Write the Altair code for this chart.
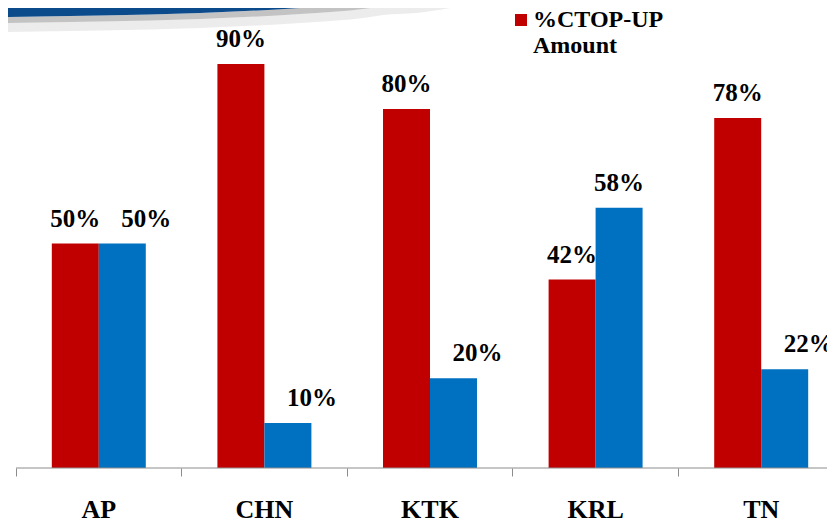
import altair as alt
import pandas as pd

# ---- chart data ----
regions = ["AP", "CHN", "KTK", "KRL", "TN"]
ctopup_pct = [50, 90, 80, 42, 78]
other_pct = [50, 10, 20, 58, 22]
series_names = ["%CTOP-UP Amount", "%ETOP-UP Amount"]
series_colors = ["#C00000", "#0070C0"]

# ---- decorative header swoosh of the slide template ----
swoosh_x = [-8, 84, 184, 284, 351, 367, 400, 440]
swoosh_edge = [9, 7.5, 5, 0, -5.5, -8, -10, -16]

FONT = "Liberation Serif"
W = 811      # visible plot width (page is cropped on the right)
RANGE = 828  # full band range of the five categories

rows = []
for r, a, b in zip(regions, ctopup_pct, other_pct):
    rows.append({"region": r, "series": series_names[0], "order": 0, "value": a})
    rows.append({"region": r, "series": series_names[1], "order": 1, "value": b})
df = pd.DataFrame(rows)
df["label"] = df["value"].astype(str) + "%"

deco = pd.DataFrame({"px": swoosh_x, "edge": swoosh_edge})
deco["top"] = -20
deco["sh1"] = deco["edge"] + 6
deco["sh2"] = deco["edge"] + 15

dx_scale = alt.Scale(domain=[0, W], nice=False, zero=False)
dy_scale = alt.Scale(domain=[0, 460], nice=False, zero=False, reverse=True)

dbase = alt.Chart(deco)
blue = dbase.mark_area(color="#0B4A8B", interpolate="monotone").encode(
    x=alt.X("px:Q", scale=dx_scale, axis=None),
    y=alt.Y("top:Q", scale=dy_scale, axis=None),
    y2="edge:Q",
)
shadow1 = dbase.mark_area(color="#7a7a7a", opacity=0.45, interpolate="monotone").encode(
    x=alt.X("px:Q", scale=dx_scale, axis=None),
    y=alt.Y("edge:Q", scale=dy_scale, axis=None),
    y2="sh1:Q",
)
shadow2 = dbase.mark_area(color="#a0a0a0", opacity=0.2, interpolate="monotone").encode(
    x=alt.X("px:Q", scale=dx_scale, axis=None),
    y=alt.Y("sh1:Q", scale=dy_scale, axis=None),
    y2="sh2:Q",
)
decor = alt.layer(shadow2, shadow1, blue)

x_scale = alt.Scale(range=[0, RANGE], paddingInner=0, paddingOuter=0)
xo_scale = alt.Scale(paddingInner=0, paddingOuter=0.762)
y_scale = alt.Scale(domain=[0, 102.5], nice=False)
x_axis = alt.Axis(title=None, labelAngle=0, labelFont=FONT, labelFontSize=26,
                  labelFontWeight="bold", labelColor="black", labelBaseline="alphabetic",
                  domain=False, tickColor="#8c8c8c", tickSize=8,
                  bandPosition=0, labelPadding=41, grid=False)

base = alt.Chart(df)
bars = base.mark_bar(clip=True).encode(
    x=alt.X("region:N", sort=regions, scale=x_scale, axis=x_axis),
    xOffset=alt.XOffset("series:N", sort=series_names, scale=xo_scale),
    y=alt.Y("value:Q", scale=y_scale, axis=None),
    color=alt.Color("series:N", scale=alt.Scale(domain=series_names, range=series_colors),
                    legend=alt.Legend(title=None, orient="none", legendX=493, legendY=0,
                                      values=[series_names[0]], symbolType="square",
                                      symbolSize=144, symbolStrokeWidth=0,
                                      labelFont=FONT, labelFontSize=24, labelFontWeight="bold",
                                      labelColor="black", labelLimit=400, labelOffset=0,
                                      labelExpr="split(datum.label, ' ')")),
)

# axis baseline (domain line) kept inside the visible plot width
axis_line = alt.Chart(pd.DataFrame({"v": [0]})).mark_rule(color="#8c8c8c", strokeWidth=1).encode(
    y=alt.Y("v:Q", scale=y_scale, axis=None),
    x=alt.value(0),
    x2=alt.value(W),
)

text_enc = dict(
    x=alt.X("region:N", sort=regions, scale=x_scale, axis=x_axis),
    xOffset=alt.XOffset("series:N", sort=series_names, scale=xo_scale),
    y=alt.Y("value:Q", scale=y_scale, axis=None),
    text="label:N",
)
lab_main = base.transform_filter("datum.order == 0 || datum.value > 50").mark_text(
    font=FONT, fontSize=25, fontWeight="bold", color="black", baseline="alphabetic", dy=-17
).encode(**text_enc)
lab_shift = base.transform_filter("datum.order == 1 && datum.value <= 50").mark_text(
    font=FONT, fontSize=25, fontWeight="bold", color="black", baseline="alphabetic", dy=-17, dx=24
).encode(**text_enc)

main = alt.layer(bars, axis_line, lab_main, lab_shift)

chart = alt.layer(decor, main).resolve_scale(x="independent", y="independent").properties(
    width=W, height=460,
    autosize=alt.AutoSizeParams(type="none"),
    padding={"left": 8, "top": 0, "right": 0, "bottom": 54},
).configure_view(stroke=None)

chart.save("out.html", embed_options={"renderer": "svg", "actions": False})
